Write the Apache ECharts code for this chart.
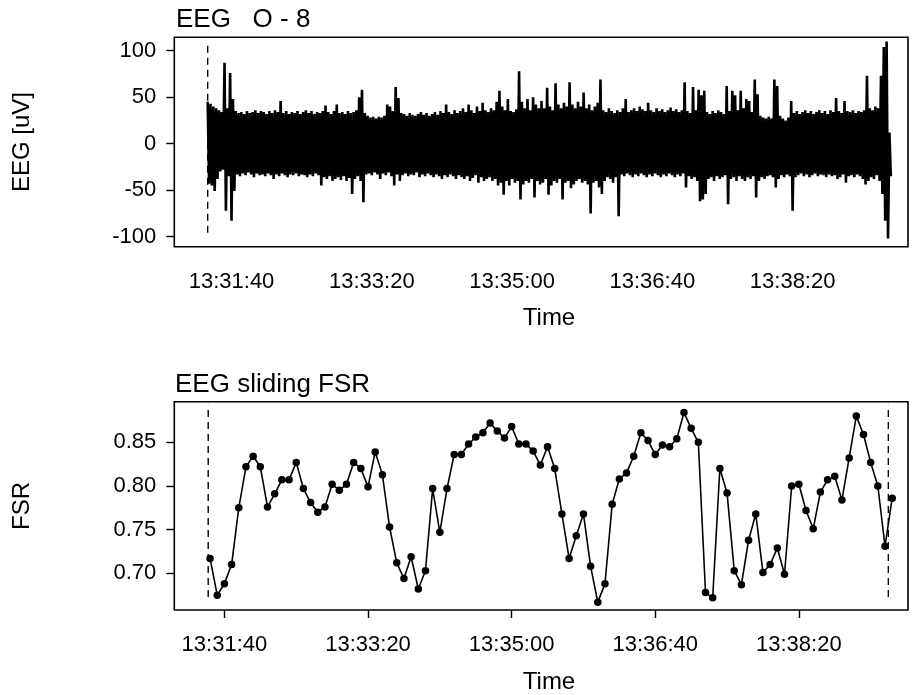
<!DOCTYPE html>
<html>
<head>
<meta charset="utf-8">
<script src="https://cdn.jsdelivr.net/npm/echarts@6/dist/echarts.min.js"></script>
<style>
html,body{margin:0;padding:0;background:#fff;}
#c{width:914px;height:695px;}
</style>
</head>
<body>
<div id="c"></div>
<script>
// ---- Time reference: seconds after 13:30:00 ----
const timeTicks = [100, 200, 300, 400, 500]; // 13:31:40 ... 13:38:20

// ---- EEG envelope (2-second bins starting at t = 83 s) ----
const eegStart = 83;
const eegStep = 2;
const eegUpper = [
 45,43,40,38,36,34,87,38,76,48,
 35,33,34,32,35,33,34,36,33,35,
 34,32,35,33,36,34,46,33,35,32,
 34,33,35,32,34,36,33,35,32,34,
 33,35,41,34,32,35,42,33,34,32,
 35,33,34,36,50,58,33,30,28,29,
 27,29,28,30,42,40,35,61,49,33,
 32,30,33,31,30,32,34,31,33,30,
 32,34,31,35,33,42,34,32,36,33,
 35,38,34,42,36,33,40,35,44,36,
 34,38,36,45,57,40,36,48,35,34,
 37,78,45,38,48,36,50,42,38,46,
 38,60,40,36,65,42,38,44,40,66,
 42,38,45,40,55,38,42,36,40,44,
 69,36,34,38,35,33,36,34,38,48,
 34,36,38,35,40,37,35,44,36,34,
 38,35,37,34,36,39,35,37,34,36,
 66,35,33,61,36,58,52,57,34,32,
 35,33,36,34,32,62,35,57,52,36,
 57,38,48,46,34,69,53,30,28,27,
 29,27,69,62,30,27,25,28,46,33,
 35,32,34,36,33,35,32,34,36,33,
 35,32,36,34,49,35,33,46,35,34,
 36,33,35,34,36,73,38,36,40,38,
 73,104,110,12
];
const eegLower = [
 -43,-45,-51,-38,-30,-28,-72,-35,-83,-51,
 -33,-35,-32,-34,-31,-33,-36,-32,-34,-33,
 -35,-32,-34,-38,-33,-35,-32,-34,-36,-33,
 -34,-32,-35,-33,-34,-36,-33,-35,-32,-34,
 -45,-36,-38,-35,-40,-38,-36,-39,-35,-40,
 -37,-54,-38,-35,-40,-63,-33,-32,-34,-31,
 -33,-38,-32,-34,-31,-35,-45,-33,-40,-34,
 -32,-35,-33,-34,-31,-36,-33,-35,-32,-34,
 -36,-33,-35,-38,-34,-36,-33,-35,-38,-34,
 -36,-38,-35,-40,-37,-34,-42,-36,-40,-38,
 -36,-40,-38,-45,-42,-55,-40,-45,-38,-42,
 -40,-60,-44,-40,-42,-38,-58,-40,-44,-42,
 -38,-55,-45,-40,-42,-38,-60,-42,-40,-48,
 -44,-40,-38,-42,-40,-44,-75,-42,-40,-47,
 -54,-40,-36,-38,-42,-36,-78,-33,-35,-32,
 -34,-36,-33,-35,-32,-34,-36,-33,-35,-32,
 -34,-36,-33,-35,-32,-34,-36,-33,-35,-32,
 -47,-35,-38,-36,-40,-62,-60,-54,-38,-36,
 -40,-35,-38,-36,-34,-65,-38,-36,-40,-35,
 -38,-40,-36,-38,-35,-58,-40,-36,-38,-35,
 -34,-36,-47,-38,-34,-36,-33,-35,-72,-36,
 -34,-32,-35,-33,-36,-34,-32,-35,-33,-34,
 -36,-33,-35,-34,-38,-36,-33,-42,-35,-34,
 -36,-33,-35,-38,-44,-40,-36,-38,-34,-40,
 -54,-83,-102,-35
];
const eegMarkerTime = 83;
const eegMarkerRange = [-95.7, 109.7];

// ---- Sliding FSR (one value every 5 s starting at t = 90 s) ----
const fsrStart = 90;
const fsrStep = 5;
const fsrValues = [
 0.717,0.675,0.688,0.710,0.775,0.822,0.834,0.822,0.776,0.791,
 0.807,0.807,0.827,0.797,0.781,0.770,0.776,0.802,0.795,0.802,
 0.827,0.820,0.799,0.839,0.813,0.753,0.712,0.694,0.719,0.682,
 0.703,0.797,0.747,0.797,0.836,0.836,0.848,0.856,0.861,0.872,
 0.863,0.855,0.868,0.848,0.848,0.840,0.824,0.845,0.820,0.768,
 0.717,0.743,0.768,0.708,0.667,0.688,0.779,0.808,0.815,0.834,
 0.861,0.852,0.836,0.847,0.845,0.854,0.884,0.866,0.850,0.678,
 0.672,0.820,0.792,0.703,0.687,0.738,0.768,0.701,0.710,0.729,
 0.699,0.800,0.802,0.772,0.751,0.793,0.807,0.811,0.784,0.832,
 0.880,0.859,0.827,0.800,0.731,0.786
];
const fsrMarkerTimes = [88.7, 562.3];
const fsrMarkerRange = [0.673, 0.893];

const eegTicks = [-100, -50, 0, 50, 100];
const fsrTicks = [0.70, 0.75, 0.80, 0.85];

// ---- build series data ----
const eegData = [];
for (let i = 0; i < eegUpper.length; i++) {
  const t = eegStart + i * eegStep;
  eegData.push([t, eegUpper[i]]);
  eegData.push([t + eegStep / 2, eegLower[i]]);
}
const fsrData = fsrValues.map((v, i) => [fsrStart + i * fsrStep, v]);

function fmtTime(s) {
  const tot = 13 * 3600 + 30 * 60 + Math.round(s);
  const h = Math.floor(tot / 3600), m = Math.floor((tot % 3600) / 60), sec = tot % 60;
  const p = n => (n < 10 ? '0' : '') + n;
  return h + ':' + p(m) + ':' + p(sec);
}

const FONT = 'Liberation Sans, Arial, Helvetica, sans-serif';
const tickFont = 22;

function xAxisCfg(grid, min, max) {
  return {
    type: 'value', gridIndex: grid, min: min, max: max,
    axisLine: {show: false},
    splitLine: {show: false},
    axisTick: {show: true, length: 8, customValues: timeTicks, lineStyle: {color: '#000', width: 1.4}},
    axisLabel: {show: true, customValues: timeTicks, formatter: fmtTime, color: '#000',
      fontFamily: FONT, fontSize: tickFont, margin: 24}
  };
}
function yAxisCfg(grid, min, max, ticks, fmt) {
  return {
    type: 'value', gridIndex: grid, min: min, max: max,
    axisLine: {show: false},
    splitLine: {show: false},
    axisTick: {show: true, length: 8, customValues: ticks, lineStyle: {color: '#000', width: 1.4}},
    axisLabel: {show: true, customValues: ticks, formatter: fmt, color: '#000',
      fontFamily: FONT, fontSize: tickFont, margin: 18}
  };
}

const chart = echarts.init(document.getElementById('c'), null, {renderer: 'canvas'});
chart.setOption({
  animation: false,
  backgroundColor: '#fff',
  grid: [
    {left: 174.3, right: 6, top: 37.3, height: 209.4, show: true, borderColor: '#000', borderWidth: 1.6, backgroundColor: 'transparent'},
    {left: 174.3, right: 6, top: 401.7, height: 208.3, show: true, borderColor: '#000', borderWidth: 1.6, backgroundColor: 'transparent'}
  ],
  xAxis: [xAxisCfg(0, 59.2, 582.25), xAxisCfg(1, 65.1, 576)],
  yAxis: [
    yAxisCfg(0, -110.8, 114.4, eegTicks, v => String(Math.round(v))),
    yAxisCfg(1, 0.658, 0.8965, fsrTicks, v => v.toFixed(2))
  ],
  series: [
    {type: 'line', xAxisIndex: 0, yAxisIndex: 0, data: eegData, showSymbol: false, symbol: 'none',
      sampling: null, lineStyle: {color: '#000', width: 2.6, join: 'bevel', cap: 'butt'}, silent: true},
    {type: 'line', xAxisIndex: 0, yAxisIndex: 0, symbol: 'none',
      data: [[eegMarkerTime, eegMarkerRange[0]], [eegMarkerTime, eegMarkerRange[1]]],
      lineStyle: {color: '#000', width: 1.4, type: [7, 5]}},
    {type: 'line', xAxisIndex: 1, yAxisIndex: 1, symbol: 'none',
      data: [[fsrMarkerTimes[0], fsrMarkerRange[0]], [fsrMarkerTimes[0], fsrMarkerRange[1]]],
      lineStyle: {color: '#000', width: 1.4, type: [7, 5]}},
    {type: 'line', xAxisIndex: 1, yAxisIndex: 1, symbol: 'none',
      data: [[fsrMarkerTimes[1], fsrMarkerRange[0]], [fsrMarkerTimes[1], fsrMarkerRange[1]]],
      lineStyle: {color: '#000', width: 1.4, type: [7, 5]}},
    {type: 'line', xAxisIndex: 1, yAxisIndex: 1, data: fsrData, symbol: 'circle', symbolSize: 7.5,
      showSymbol: true, itemStyle: {color: '#000'}, lineStyle: {color: '#000', width: 1.6}}
  ],
  graphic: [
    {type: 'text', left: 176, top: 7, style: {text: 'EEG   O - 8', font: '26px ' + FONT, fill: '#000'}},
    {type: 'text', left: 175, top: 372, style: {text: 'EEG sliding FSR', font: '26px ' + FONT, fill: '#000'}},
    {type: 'text', x: 549, y: 318, style: {text: 'Time', font: '24px ' + FONT, fill: '#000', align: 'center', verticalAlign: 'middle'}},
    {type: 'text', x: 549, y: 682, style: {text: 'Time', font: '24px ' + FONT, fill: '#000', align: 'center', verticalAlign: 'middle'}},
    {type: 'text', x: 22, y: 142, rotation: Math.PI / 2, style: {text: 'EEG [uV]', font: '24px ' + FONT, fill: '#000', align: 'center', verticalAlign: 'middle'}},
    {type: 'text', x: 22, y: 506, rotation: Math.PI / 2, style: {text: 'FSR', font: '24px ' + FONT, fill: '#000', align: 'center', verticalAlign: 'middle'}}
  ]
});
</script>
</body>
</html>
